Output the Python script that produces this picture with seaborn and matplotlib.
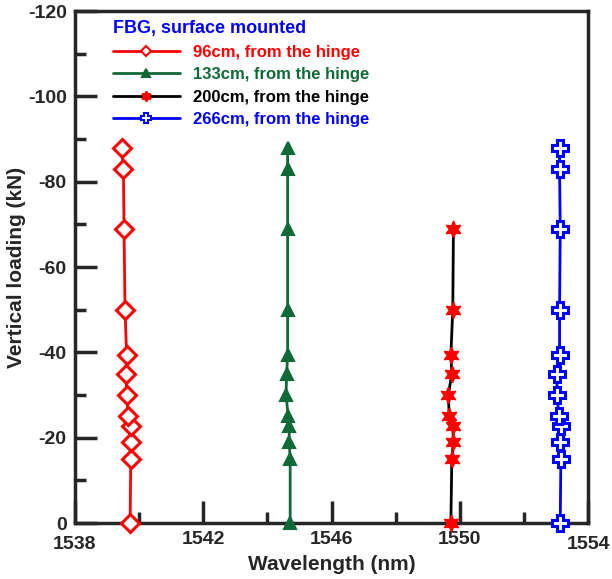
import numpy as np
import pandas as pd
import seaborn as sns
import matplotlib.pyplot as plt
import matplotlib.transforms as mtransforms
from matplotlib.ticker import FixedLocator, MultipleLocator
from matplotlib.lines import Line2D

# loads (kN), negative = downward
load_12 = [0, -15, -19, -22.7, -25, -30, -35, -39.5, -50, -69, -83, -88]
load_10 = [0, -15, -19, -22.7, -25, -30, -35, -39.5, -50, -69]

wl_96 = [1539.72, 1539.74, 1539.74, 1539.74, 1539.66, 1539.61, 1539.59, 1539.61,
         1539.56, 1539.53, 1539.51, 1539.46]
wl_133 = [1544.71, 1544.71, 1544.68, 1544.68, 1544.65, 1544.58, 1544.60, 1544.63,
          1544.63, 1544.63, 1544.63, 1544.63]
wl_200 = [1549.72, 1549.75, 1549.80, 1549.78, 1549.67, 1549.64, 1549.75, 1549.72,
          1549.78, 1549.80]
wl_266 = [1553.13, 1553.15, 1553.13, 1553.16, 1553.09, 1553.03, 1553.03, 1553.11,
          1553.11, 1553.13, 1553.11, 1553.11]

labels = ["96cm, from the hinge", "133cm, from the hinge",
          "200cm, from the hinge", "266cm, from the hinge"]
x_major = [1538, 1542, 1546, 1550, 1554]
x_minor = [1540, 1544, 1548, 1552]

sns.set_style("ticks")
plt.rcParams['font.family'] = ['Liberation Sans', 'DejaVu Sans']
plt.rcParams['font.weight'] = 'bold'
plt.rcParams['axes.unicode_minus'] = False

fig = plt.figure(figsize=(6.12, 5.79), dpi=100)
ax = fig.add_axes([0.1225, 0.0967, 0.8385, 0.884])

styles = [
    dict(color='#ff0000', marker='D', mfc='white', mec='#ff0000', ms=9, mew=2.2),
    dict(color='#106a38', marker='^', mfc='#106a38', mec='#106a38', ms=9, mew=1.5),
    dict(color='black', marker=(6, 1, 0), mfc='#ff0000', mec='#ff0000', ms=12, mew=1),
    dict(color='#0000ff', marker='P', mfc='white', mec='#0000ff', ms=11, mew=2.2),
]
series = [(wl_96, load_12), (wl_133, load_12), (wl_200, load_10), (wl_266, load_12)]

handles = []
for (wl, ld), lab, st in zip(series, labels, styles):
    df = pd.DataFrame({'wl': wl, 'load': ld})
    sns.lineplot(data=df, x='wl', y='load', sort=False, estimator=None,
                 color=st['color'], lw=2, ax=ax, clip_on=False, zorder=3)
    ax.plot(df['wl'], df['load'], ls='none', marker=st['marker'], ms=st['ms'],
            mfc=st['mfc'], mec=st['mec'], mew=st['mew'], clip_on=False, zorder=4)
    handles.append(Line2D([], [], color=st['color'], lw=2, marker=st['marker'],
                          ms=st['ms'] * 0.6, mfc=st['mfc'], mec=st['mec'], mew=1.5))

ax.set_xlim(1538, 1554)
ax.set_ylim(0, -120)
ax.xaxis.set_major_locator(FixedLocator(x_major))
ax.xaxis.set_minor_locator(FixedLocator(x_minor))
ax.yaxis.set_major_locator(MultipleLocator(20))
ax.yaxis.set_minor_locator(MultipleLocator(10))
ax.tick_params(which='major', direction='in', length=16, width=2.5, labelsize=14, pad=6)
ax.tick_params(which='minor', direction='in', length=8, width=2.5)
for sp in ax.spines.values():
    sp.set_linewidth(2.5)
for t in ax.get_xticklabels() + ax.get_yticklabels():
    t.set_fontweight('bold')

# end labels of the x axis sit a little lower, as in the original
xt = ax.get_xticklabels()
shift = mtransforms.ScaledTranslation(0, -5 / 100, fig.dpi_scale_trans)
for t in (xt[0], xt[-1]):
    t.set_transform(t.get_transform() + shift)

ax.set_xlabel("Wavelength (nm)", fontsize=15, fontweight='bold')
ax.xaxis.set_label_coords(0.5, -0.062)
ax.set_ylabel("Vertical loading (kN)", fontsize=15, fontweight='bold', labelpad=1)

colors = ['#ff0000', '#106a38', 'black', '#0000ff']
leg = ax.legend(handles=handles, labels=labels, title="FBG, surface mounted",
                loc='upper left', bbox_to_anchor=(0.045, 1.012), frameon=False,
                handlelength=4.0, handletextpad=0.8, labelspacing=0.45,
                prop={'weight': 'bold', 'size': 12})
leg.get_title().set_color('#0000ff')
leg.get_title().set_fontweight('bold')
leg.get_title().set_fontsize(13)
leg._legend_box.align = 'left'
for txt, c in zip(leg.get_texts(), colors):
    txt.set_color(c)

fig.savefig("out.png", dpi=100)
